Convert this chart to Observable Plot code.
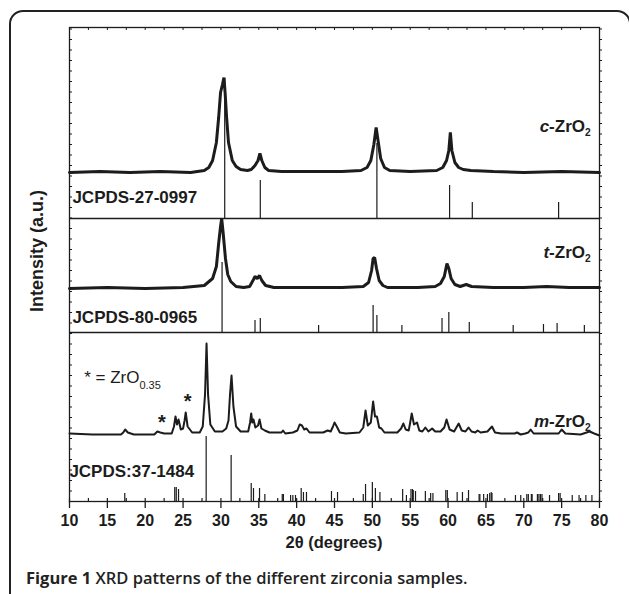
<!DOCTYPE html>
<html><head><meta charset="utf-8">
<script src="https://cdn.jsdelivr.net/npm/d3@7"></script>
<script src="https://cdn.jsdelivr.net/npm/@observablehq/plot@0.6"></script>
<style>
html,body{margin:0;padding:0;background:#fff}
body{width:629px;height:594px;overflow:hidden;position:relative;font-family:"Liberation Sans",Arial,sans-serif}
#frame{position:absolute;left:9px;top:10px;width:622px;height:600px;border:2px solid #222;border-radius:14px;box-sizing:border-box}
#chart{position:absolute;left:0;top:0}
#caption{position:absolute;left:26px;top:568px;font-family:"Open Sans",sans-serif;font-size:16.5px;line-height:19px;font-weight:600;color:#222;white-space:nowrap}
#caption b{font-weight:700}
</style></head><body>
<div id="frame"></div>
<div id="chart"></div>
<div id="caption"><b>Figure 1</b> XRD patterns of the different zirconia samples.</div>
<script>
// ---- data (2θ in degrees, intensity in a.u.) ----
const xTicks = [10,15,20,25,30,35,40,45,50,55,60,65,70,75,80];
const xMinor = [12.5,17.5,22.5,27.5,32.5,37.5,42.5,47.5,52.5,57.5,62.5,67.5,72.5,77.5];

// c-ZrO2 measured pattern
const cPattern = [[10,0],[14,1],[18,0],[22,1],[26,0],[27.8,2],[28.4,5],[28.9,12],[29.4,30],[29.7,55],[29.95,80],[30.2,88],[30.4,95],[30.55,80],[30.75,55],[31.0,30],[31.5,12],[32.0,6],[32.6,3],[33.5,2],[34.0,3],[34.5,7],[34.9,12],[35.15,19],[35.4,12],[35.8,5],[36.3,2],[38,1],[42,1],[46,1],[48.5,2],[49.3,5],[49.8,12],[50.2,28],[50.5,45],[50.75,32],[51.1,14],[51.6,5],[52.3,2],[55,1],[58.5,2],[59.3,5],[59.8,12],[60.1,22],[60.3,40],[60.5,22],[60.9,10],[61.4,5],[62,3],[63,2],[66,1],[70,0],[75,1],[80,0]];
// JCPDS-27-0997 reference lines
const cRefPos = [30.5, 35.2, 50.6, 60.2, 63.2, 74.6];
const cRefInt = [140, 38, 75, 33, 16, 16];

// t-ZrO2 measured pattern
const tPattern = [[10,0],[15,1],[20,0],[25,1],[27.8,3],[28.9,10],[29.4,22],[29.7,45],[29.95,62],[30.1,70],[30.3,55],[30.6,30],[30.9,14],[31.3,7],[32.0,2],[33.0,1],[33.8,2],[34.3,9],[34.5,12],[34.8,10],[35.1,13],[35.4,8],[35.9,3],[37,1],[42,1],[46,1],[48.8,2],[49.5,6],[49.9,18],[50.1,30],[50.3,31],[50.55,20],[50.9,8],[51.4,3],[52,1],[56,1],[58.3,2],[59.0,5],[59.5,12],[59.85,25],[60.1,20],[60.4,10],[60.9,4],[61.6,2],[62.4,4],[63.1,2],[66,1],[70,1],[73,2],[76,1],[80,1]];
// JCPDS-80-0965 reference lines
const tRefPos = [30.15, 34.5, 35.2, 42.9, 50.1, 50.6, 53.9, 59.2, 60.1, 62.8, 68.6, 72.6, 74.4, 78.0];
const tRefInt = [70, 12, 14, 7, 27, 17, 7, 14, 20, 10, 7, 8, 9, 7];

// m-ZrO2 measured pattern
const mPattern = [[10,1],[13,0],[16.8,0],[17.1,2],[17.35,5],[17.7,2],[18.5,0],[21.2,0],[21.6,3],[22.0,2],[22.5,1],[23.5,1],[23.8,8],[24.0,18],[24.2,10],[24.4,15],[24.7,5],[25.0,6],[25.2,14],[25.35,22],[25.6,8],[26.2,2],[27.2,2],[27.6,8],[27.9,40],[28.1,91],[28.3,40],[28.6,10],[29.2,3],[30.2,3],[30.7,6],[31.0,14],[31.2,40],[31.4,59],[31.65,28],[32.0,8],[32.6,3],[33.6,3],[33.85,12],[34.0,21],[34.15,12],[34.3,15],[34.55,7],[34.9,9],[35.1,15],[35.35,6],[35.8,4],[36.4,2],[37.5,2],[38.0,2],[38.2,4],[38.5,1],[39.5,2],[40.1,4],[40.4,10],[40.7,9],[41.0,5],[41.3,6],[41.7,2],[43.5,2],[44.1,4],[44.5,3],[44.8,8],[45.0,12],[45.3,8],[45.7,2],[46.5,1],[48.3,2],[48.8,7],[49.1,24],[49.4,9],[49.8,12],[50.1,33],[50.35,18],[50.6,18],[50.9,7],[51.2,6],[51.6,2],[53.3,2],[53.8,6],[54.1,11],[54.4,5],[54.8,4],[55.0,12],[55.2,21],[55.5,10],[55.9,12],[56.2,4],[56.6,3],[57.0,7],[57.4,3],[57.9,6],[58.3,3],[59.0,3],[59.5,7],[59.8,15],[60.2,5],[60.8,3],[61.1,7],[61.4,11],[61.8,4],[62.3,3],[62.7,7],[63.1,3],[63.6,2],[63.9,4],[64.3,2],[65.2,3],[65.8,8],[66.2,2],[67,1],[68.8,1],[69.1,2],[69.6,0],[70.2,1],[70.6,2],[70.9,5],[71.3,1],[72.5,1],[74.6,1],[75.0,5],[75.5,1],[77.5,0],[78.7,3],[79.3,1],[80,-1]];
// JCPDS:37-1484 reference lines
const mRefPos = [17.3,23.9,24.1,24.4,28.05,31.35,34.0,34.3,35.1,35.8,38.1,38.25,39.2,39.5,39.85,40.6,40.9,41.3,44.6,45.4,48.8,49.1,50.0,50.4,51.0,54.0,54.5,55.1,55.3,55.4,55.7,57.0,57.7,58.0,59.7,59.9,61.2,61.9,62.7,64.1,64.2,64.7,65.2,65.5,65.7,65.8,68.9,69.6,70.4,70.6,71.0,71.1,71.8,72.0,72.2,72.4,73.4,74.6,74.8,76.4,77.3,78.2,79.0];
const mRefInt = [8,14,14,12,65,46,18,13,13,7,7,7,6,6,6,13,9,9,10,9,7,17,19,13,9,12,6,12,12,11,10,10,8,8,11,11,9,9,11,7,7,7,7,8,9,8,6,6,7,7,7,7,7,7,7,7,6,8,8,6,6,6,6];

// ---- layout constants (vertical offsets of the stacked panels) ----
const ink = "#1c1c1c";
const yTop = 474;                // y-domain top
const sep1 = 283, sep2 = 169;    // panel separators
const cBase = 329, tBase = 213, mBase = 67;  // pattern baselines

const refs = (pos, int, base) => pos.map((p, i) => ({p, y1: base, y2: base + int[i]}));
const yTickVals = d3.range(0, yTop, 10.5);

const W = 629, H = 560;
const plot = Plot.plot({
  width: W, height: H,
  marginLeft: 69, marginRight: 30, marginTop: 27, marginBottom: H - 501,
  x: {domain: [10, 80]},
  y: {domain: [0, yTop], axis: null},
  style: {fontFamily: "'Liberation Sans', Arial, sans-serif", background: "transparent", color: ink},
  marks: [
    Plot.axisX({ticks: xTicks, tickSize: 7, tickPadding: 6, fontSize: 16, fontWeight: "bold", label: null, stroke: ink, strokeWidth: 1.3}),
    Plot.ruleX(xMinor, {x: d => d, y1: 0, y2: 3, stroke: ink, strokeWidth: 1.2}),
    Plot.ruleX(xTicks, {x: d => d, y1: 0, y2: 3, stroke: ink, strokeWidth: 1.2}),
    Plot.ruleX(xMinor.concat(xTicks), {x: d => d, y1: yTop - 3, y2: yTop, stroke: ink, strokeWidth: 1}),
    Plot.ruleY(yTickVals, {y: d => d, x1: 10, x2: 10.4, stroke: ink, strokeWidth: 1}),
    Plot.ruleY(yTickVals, {y: d => d, x1: 80, x2: 80.4, stroke: ink, strokeWidth: 1}),
    Plot.ruleX(refs(cRefPos, cRefInt, sep1), {x: "p", y1: "y1", y2: "y2", stroke: ink, strokeWidth: 1.2}),
    Plot.ruleX(refs(tRefPos, tRefInt, sep2), {x: "p", y1: "y1", y2: "y2", stroke: ink, strokeWidth: 1.2}),
    Plot.ruleX(refs(mRefPos, mRefInt, 0), {x: "p", y1: "y1", y2: "y2", stroke: ink, strokeWidth: 1.2}),
    Plot.line(cPattern, {x: d => d[0], y: d => cBase + d[1], stroke: ink, strokeWidth: 3, strokeLinejoin: "miter"}),
    Plot.line(tPattern, {x: d => d[0], y: d => tBase + d[1], stroke: ink, strokeWidth: 3, strokeLinejoin: "miter"}),
    Plot.line(mPattern, {x: d => d[0], y: d => mBase + d[1], stroke: ink, strokeWidth: 2, strokeLinejoin: "round"}),
    Plot.text([[22.2, 79], [25.6, 100]], {x: d => d[0], y: d => d[1], text: () => "*", fontSize: 20, fontWeight: "bold", fill: ink}),
    Plot.ruleY([sep1, sep2], {stroke: ink, strokeWidth: 1.3}),
    Plot.frame({stroke: ink, strokeWidth: 1.3})
  ]
});
document.getElementById("chart").appendChild(plot);

const sx = plot.scale("x").apply, sy = plot.scale("y").apply;
const svg = d3.select(plot);
function label(x, y, parts, anchor = "start", size = 17, weight = "bold") {
  const t = svg.append("text").attr("x", sx(x)).attr("y", sy(y))
    .attr("text-anchor", anchor).attr("font-size", size).attr("font-weight", weight)
    .attr("font-family", "'Liberation Sans', Arial, sans-serif").attr("fill", ink);
  parts.forEach(([s, k]) => {
    const ts = t.append("tspan").text(s);
    if (k === "i") ts.attr("font-style", "italic");
    if (k === "sub") ts.attr("font-size", size * 0.6).attr("dy", 4);
    if (k === "sub2") ts.attr("font-size", 11).attr("dy", 6);
  });
}
label(78.9, 369, [["c", "i"], ["-ZrO", ""], ["2", "sub"]], "end");
label(78.9, 243, [["t", "i"], ["-ZrO", ""], ["2", "sub"]], "end");
label(78.9, 74, [["m", "i"], ["-ZrO", ""], ["2", "sub"]], "end");
label(10.45, 298, [["JCPDS-27-0997", ""]]);
label(10.45, 178, [["JCPDS-80-0965", ""]]);
label(10.05, 24, [["JCPDS:37-1484", ""]]);
label(12.0, 118, [["* = ZrO", ""], ["0.35", "sub2"]], "start", 17, "normal");
svg.append("text").attr("x", (sx(10) + sx(80)) / 2).attr("y", 548).attr("text-anchor", "middle")
  .attr("font-size", 16.5).attr("font-weight", "bold").attr("fill", ink).text("2θ (degrees)");
svg.append("text").attr("transform", `translate(43,${sy(250)}) rotate(-90)`).attr("text-anchor", "middle")
  .attr("font-size", 18).attr("font-weight", "bold").attr("fill", ink).text("Intensity (a.u.)");
</script>
</body></html>
